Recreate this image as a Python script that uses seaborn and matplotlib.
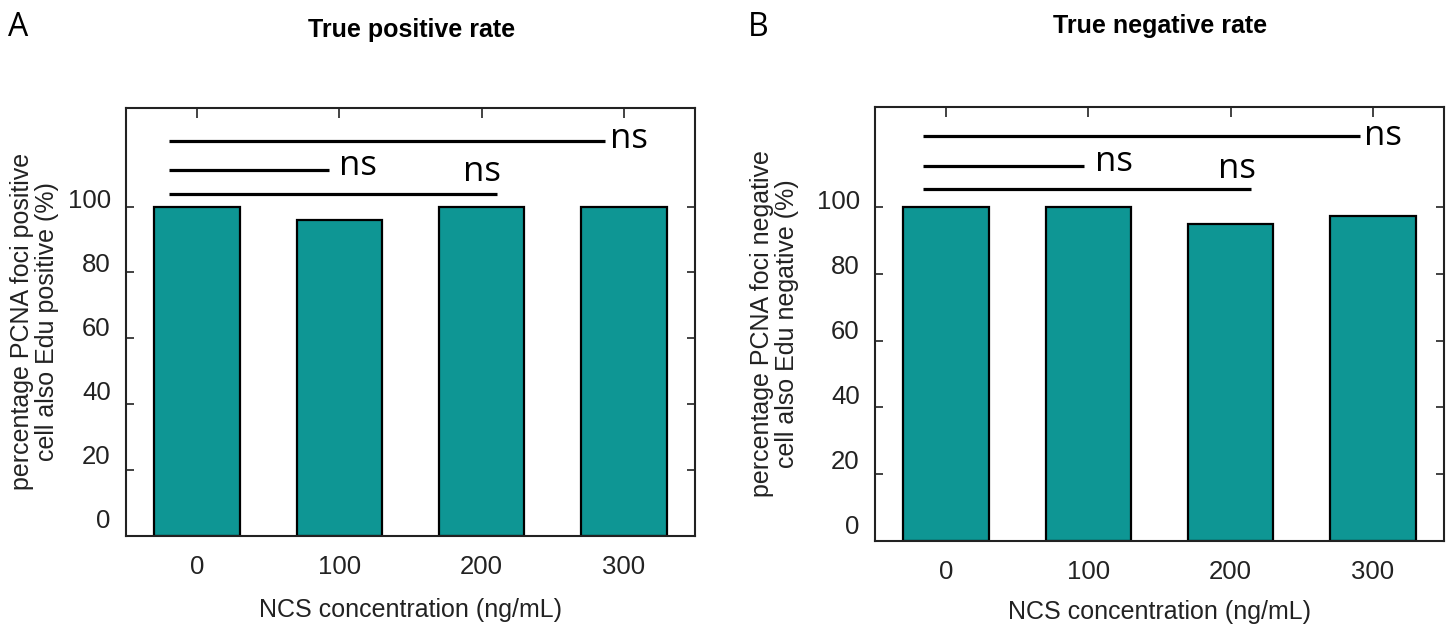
import matplotlib
matplotlib.use("Agg")
import matplotlib.pyplot as plt
from matplotlib.transforms import ScaledTranslation
import seaborn as sns
import pandas as pd

# ---- data ----
concentrations = ["0", "100", "200", "300"]
tpr_values = [100, 96, 100, 100]
tnr_values = [100, 100, 95, 97.3]
yticks = [0, 20, 40, 60, 80, 100]
panel_titles = ["True positive rate", "True negative rate"]
panel_letters = ["A", "B"]
ylabels = ["percentage PCNA foci positive\ncell also Edu positive (%)",
           "percentage PCNA foci negative\ncell also Edu negative (%)"]
xlabel = "NCS concentration (ng/mL)"
sig_label = "ns"

sns.set_theme(style="ticks")
plt.rcParams["font.family"] = ["Liberation Sans", "DejaVu Sans"]

BAR_COLOR = "#0e9694"
TXT = "#222222"
fig = plt.figure(figsize=(14.5, 6.24), dpi=100)

axes_rects = [
    [126 / 1450, 1 - 535.6 / 624, (695 - 126) / 1450, (535.6 - 108) / 624],
    [875 / 1450, 1 - 541 / 624, (1444 - 875) / 1450, (541 - 107) / 624],
]

# significance brackets per panel: (x_start, x_end, y_line, x_text, y_text)
sig_A = [(-0.2, 2.87, 120.0, 2.90, 120.6),
         (-0.2, 0.93, 111.3, 1.0, 112.5),
         (-0.2, 2.11, 104.0, 1.87, 110.4)]
sig_B = [(-0.16, 2.91, 121.3, 2.94, 121.2),
         (-0.16, 0.97, 112.3, 1.05, 113.4),
         (-0.16, 2.14, 105.4, 1.91, 111.5)]

datasets = [tpr_values, tnr_values]
sigs = [sig_A, sig_B]
title_pos = [(412 / 1450, 1 - 30 / 624), (1160 / 1450, 1 - 26 / 624)]
letter_pos = [(8 / 1450, 1 - 27 / 624), (748 / 1450, 1 - 27 / 624)]
ylabel_x = [-0.117, -0.133]
xlabel_y = [-0.146, -0.136]

for i in range(2):
    ax = fig.add_axes(axes_rects[i])
    df = pd.DataFrame({"conc": concentrations, "val": datasets[i]})
    sns.barplot(data=df, x="conc", y="val", color=BAR_COLOR, saturation=1,
                edgecolor="black", linewidth=1.6, width=0.6, ax=ax)
    ax.set_xlim(-0.5, 3.5)
    ax.set_ylim(0, 130)
    ax.set_yticks(yticks)
    ax.set_yticklabels([str(t) for t in yticks])
    for sp in ax.spines.values():
        sp.set_visible(True)
        sp.set_linewidth(1.5)
        sp.set_color(TXT)
    ax.tick_params(axis="y", which="both", direction="in", left=True, right=True,
                   length=6, width=1.2, labelsize=18.5, pad=11, colors=TXT,
                   labelcolor=TXT)
    ax.tick_params(axis="x", which="both", direction="in", top=True, bottom=False,
                   length=7, width=1.2, labelsize=18.5, pad=14, colors=TXT,
                   labelcolor=TXT)
    for t, lab in zip(yticks, ax.get_yticklabels()):
        shift_px = 8 + (100 - t) / 100 * 9
        lab.set_transform(lab.get_transform()
                          + ScaledTranslation(0, shift_px / 100, fig.dpi_scale_trans))
    ax.set_xlabel(xlabel, fontsize=18, color=TXT)
    ax.xaxis.set_label_coords(0.5, xlabel_y[i])
    ax.set_ylabel(ylabels[i], fontsize=18, color=TXT, linespacing=1.05)
    ax.yaxis.set_label_coords(ylabel_x[i], 0.5)
    for (x0, x1, yl, xt, yt) in sigs[i]:
        ax.plot([x0, x1], [yl, yl], color="black", lw=2.3, solid_capstyle="butt",
                clip_on=False)
        ax.text(xt, yt, sig_label, fontsize=25, ha="left", va="center",
                family=["Open Sans", "DejaVu Sans"], color="black")
    fig.text(*title_pos[i], panel_titles[i], ha="center", va="center",
             fontsize=18, fontweight="bold", color="black",
             family=["Liberation Sans Narrow", "Liberation Sans", "DejaVu Sans"])
    fig.text(*letter_pos[i], panel_letters[i], ha="left", va="center",
             fontsize=23, family=["Open Sans", "DejaVu Sans"], color="black")

fig.savefig("out.png", dpi=100, facecolor="white")
